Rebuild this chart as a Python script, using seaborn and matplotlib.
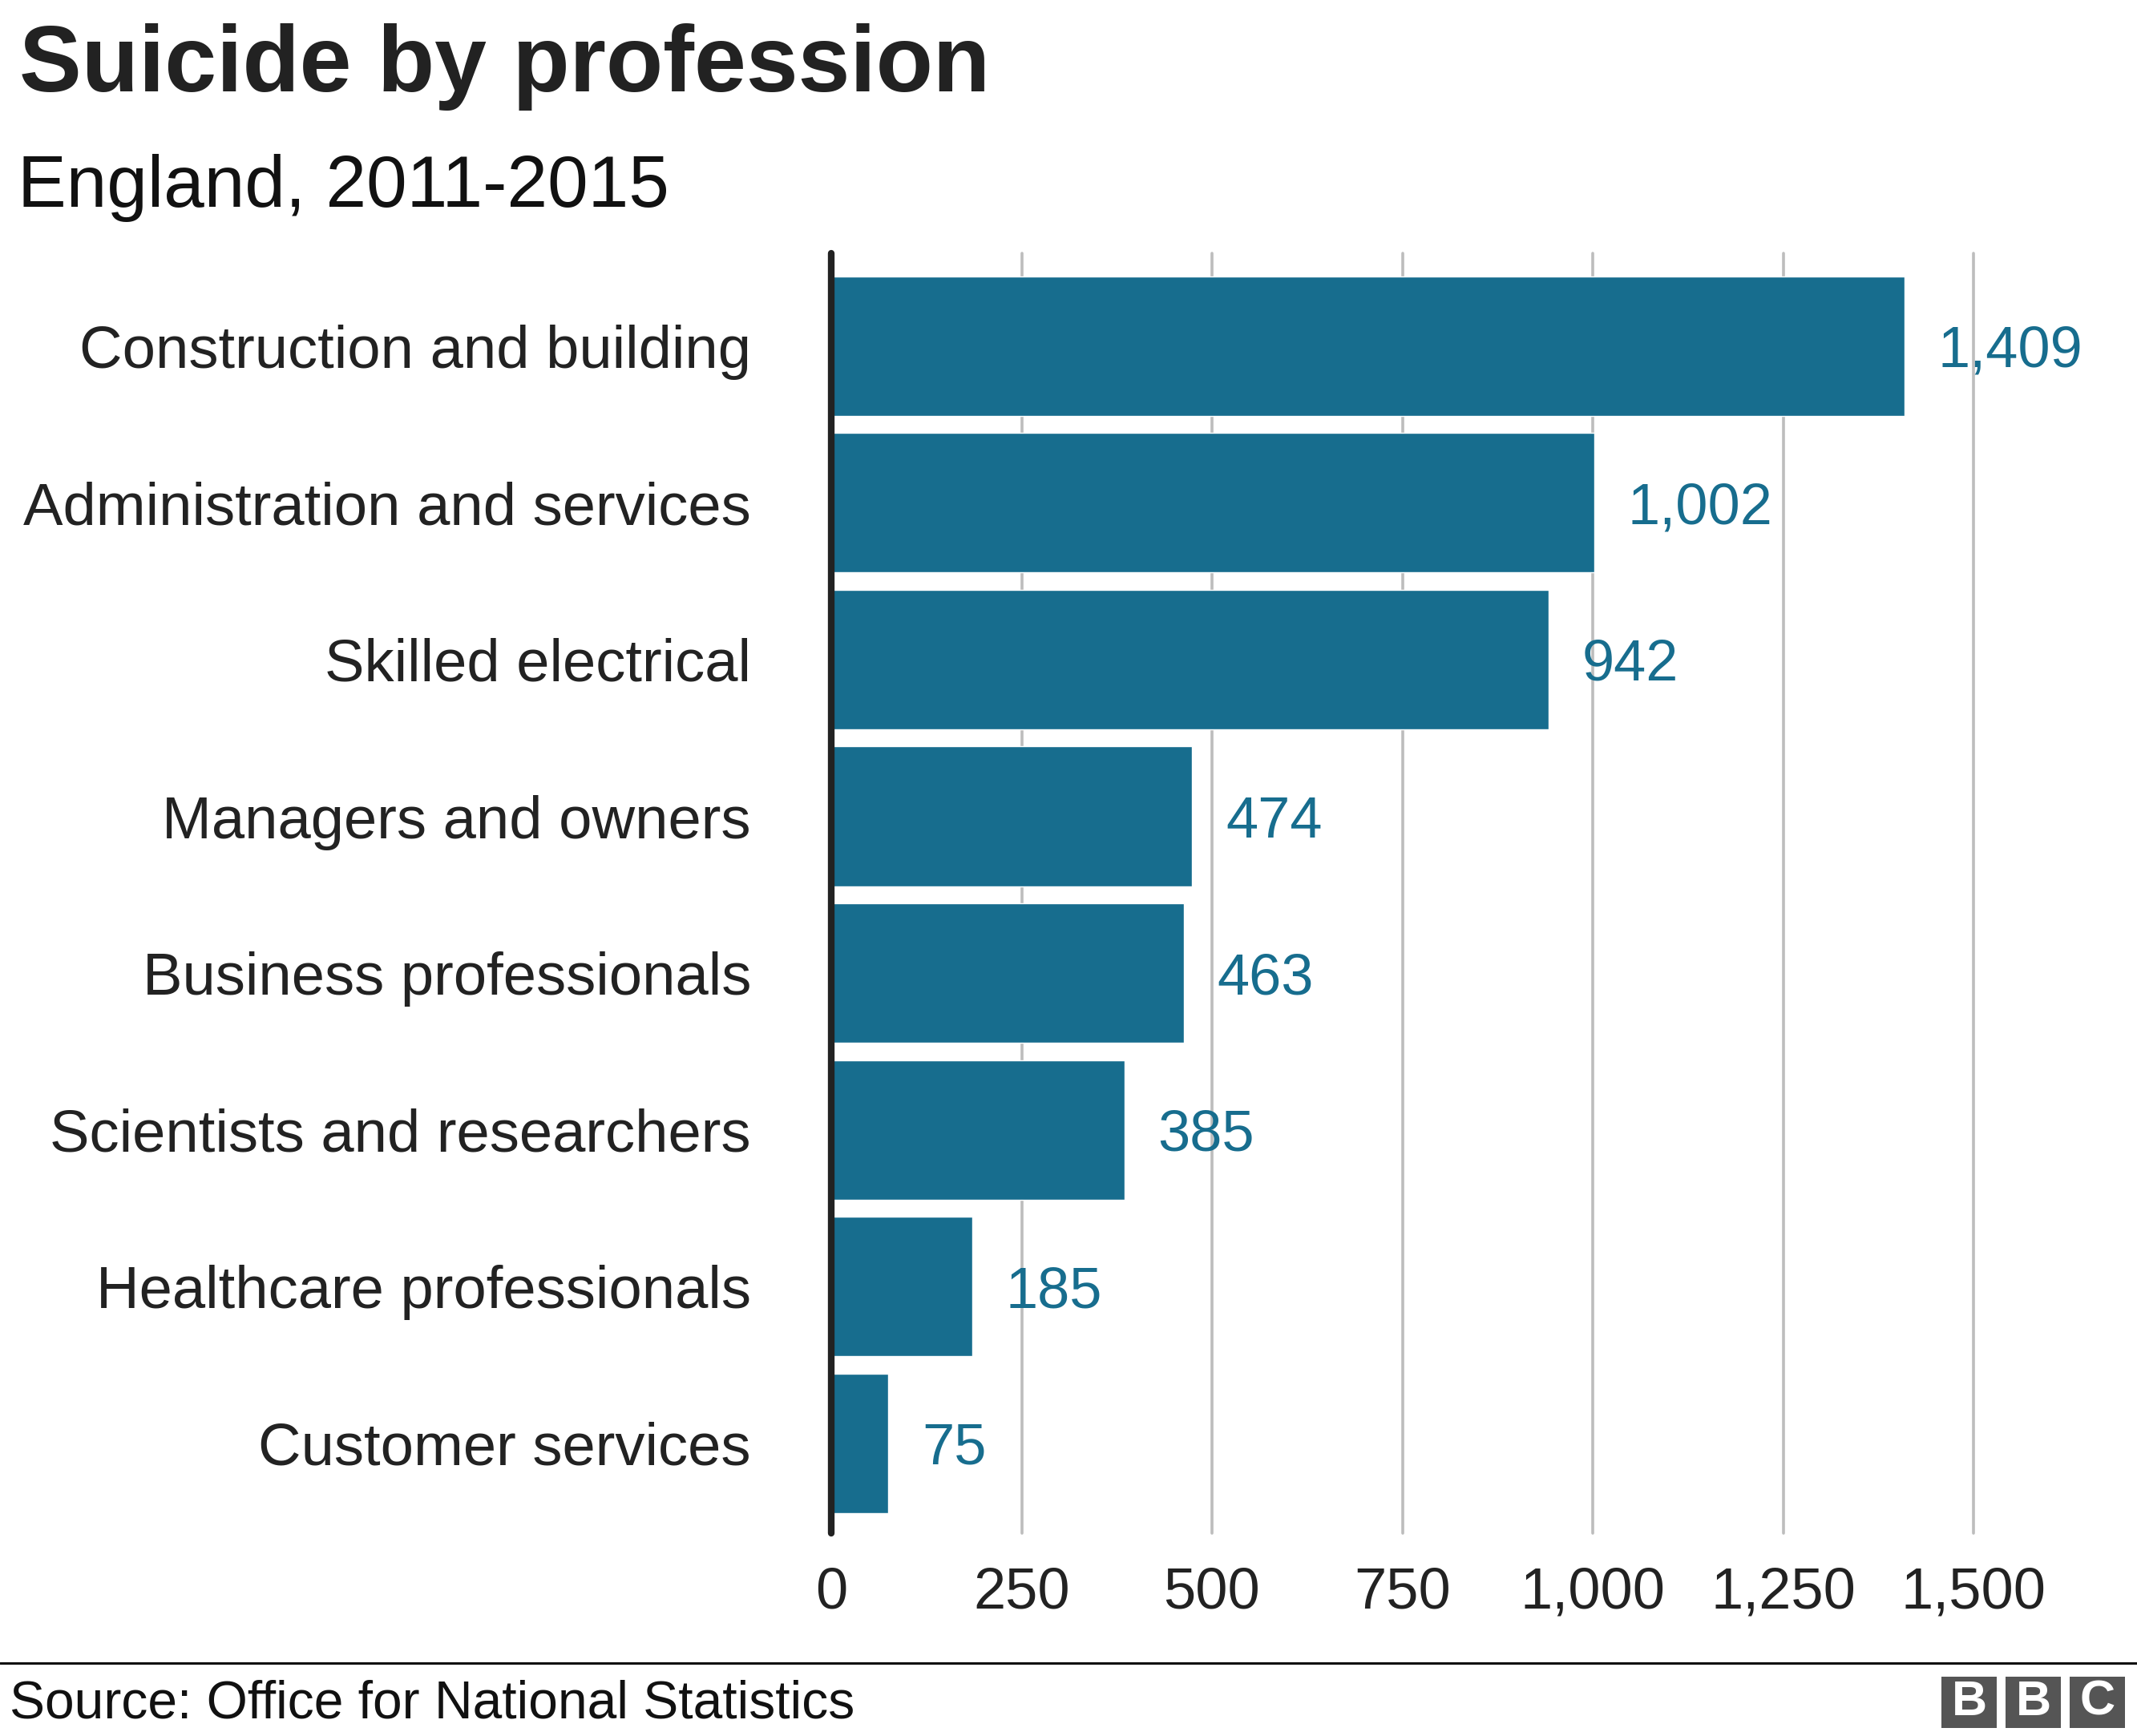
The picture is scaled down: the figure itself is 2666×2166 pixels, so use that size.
import matplotlib
matplotlib.use('Agg')
import matplotlib.pyplot as plt
import seaborn as sns
from matplotlib.patches import Rectangle
from matplotlib.lines import Line2D

# ------------------------------------------------------------
# data
# ------------------------------------------------------------
categories = ['Construction and building', 'Administration and services',
              'Skilled electrical', 'Managers and owners',
              'Business professionals', 'Scientists and researchers',
              'Healthcare professionals', 'Customer services']
values = [1409, 1002, 942, 474, 463, 385, 185, 75]
x_ticks = [0, 250, 500, 750, 1000, 1250, 1500]

title = 'Suicide by profession'
subtitle = 'England, 2011-2015'
source = 'Source: Office for National Statistics'

BAR = '#176d8e'
DARK = '#222222'
GRID = '#bdbdbd'

sns.set_theme(style='white')
plt.rcParams['font.family'] = ['Liberation Sans', 'DejaVu Sans']

W, H = 2666, 2166
fig = plt.figure(figsize=(W / 100, H / 100), dpi=100)
fig.patch.set_facecolor('white')

# axes placed in pixel terms
left, right, top, bottom = 1037, 2462, 316, 1913
ax = fig.add_axes([left / W, 1 - bottom / H, (right - left) / W, (bottom - top) / H])

sns.barplot(x=values, y=categories, orient='h', color=BAR, saturation=1,
            width=0.89, ax=ax, zorder=2)

ax.set_xlim(0, 1500)
ax.set_ylim(7.575, -0.593)
for s in ax.spines.values():
    s.set_visible(False)

ax.set_xticks(x_ticks)
ax.set_xticklabels([f'{t:,}' for t in x_ticks])
ax.xaxis.grid(True, color=GRID, lw=2.6, zorder=0)
ax.set_axisbelow(True)
# gridline at the right edge would be half clipped
for gl in ax.get_xgridlines():
    gl.set_clip_on(False)
ax.axvline(0, color=DARK, lw=6.0, zorder=3, clip_on=False)

ax.tick_params(axis='y', length=0, pad=72, labelsize=53.5, labelcolor=DARK)
ax.tick_params(axis='x', length=0, pad=30, labelsize=52, labelcolor=DARK)
ax.set_xlabel('')
ax.set_ylabel('')

for i, v in enumerate(values):
    ax.annotate(f'{v:,}', xy=(v, i), xytext=(30, 0), textcoords='offset points',
                va='center_baseline', ha='left', fontsize=52, color=BAR,
                annotation_clip=False)

# titles
fig.text(24 / W, 1 - 114 / H, title, fontsize=84, fontweight='bold',
         color=DARK, va='baseline', ha='left')
fig.text(22 / W, 1 - 258 / H, subtitle, fontsize=65.5, color='#111111',
         va='baseline', ha='left')

# footer
fig.add_artist(Line2D([0, 1], [1 - 2075 / H] * 2, transform=fig.transFigure,
                      color='#111111', lw=2.2))
fig.text(12 / W, 1 - 2127 / H, source, fontsize=47.5, color='#111111',
         va='center', ha='left')

# BBC logo
for x0, letter in zip([2422, 2502, 2582], ['B', 'B', 'C']):
    fig.add_artist(Rectangle((x0 / W, 1 - 2156 / H), 69 / W, 64 / H,
                             transform=fig.transFigure, color='#555555', lw=0))
    fig.text((x0 + 34.5) / W, 1 - 2124 / H, letter, fontsize=44,
             fontweight='bold', color='white', ha='center', va='center')

fig.savefig('out.png', dpi=100, facecolor='white')
